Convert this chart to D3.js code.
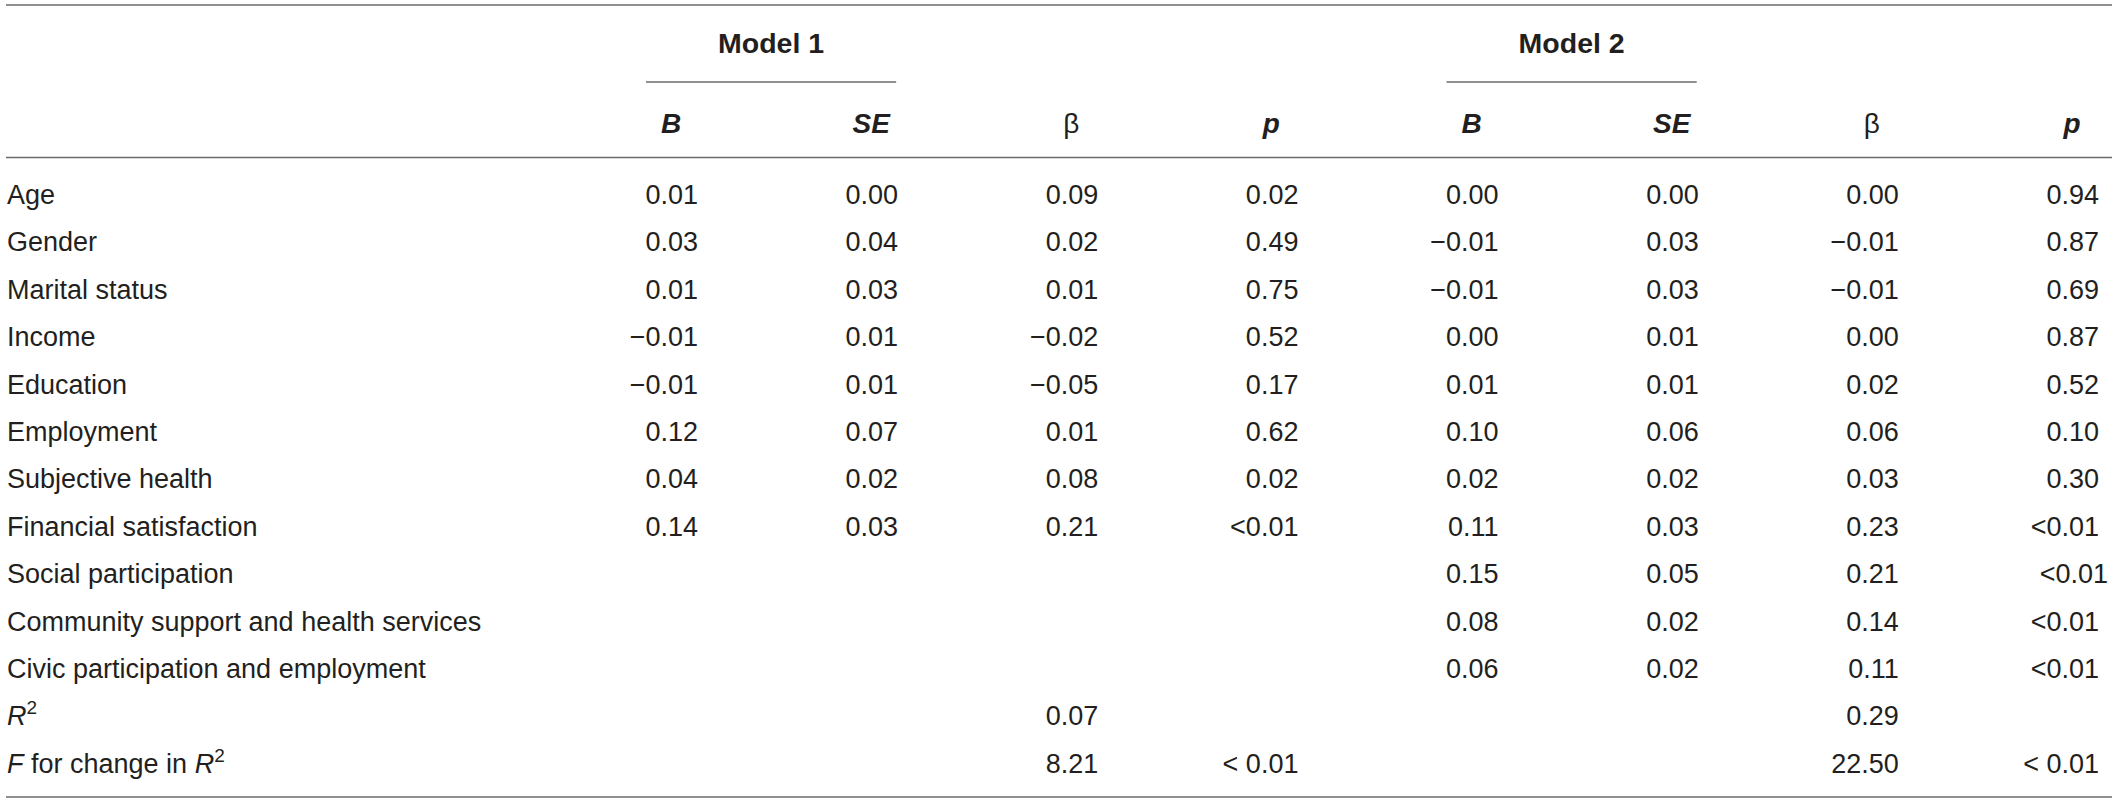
<!DOCTYPE html>
<html>
<head>
<meta charset="utf-8">
<script src="https://cdn.jsdelivr.net/npm/d3@7"></script>
<style>
  body { margin: 0; background: #fff; }
  text { font-family: "Liberation Sans", Arial, Helvetica, sans-serif; fill: #231f20; }
</style>
</head>
<body>
<div id="chart"></div>
<script>
// Data
const rowLabels = [
  "Age", "Gender", "Marital status", "Income", "Education", "Employment",
  "Subjective health", "Financial satisfaction", "Social participation",
  "Community support and health services", "Civic participation and employment",
  "R²", "F for change in R²"
];
const models = ["Model 1", "Model 2"];
const statHeaders = ["B", "SE", "β", "p"];

const model1B    = ["0.01", "0.03", "0.01", "−0.01", "−0.01", "0.12", "0.04", "0.14", "", "", "", "", ""];
const model1SE   = ["0.00", "0.04", "0.03", "0.01", "0.01", "0.07", "0.02", "0.03", "", "", "", "", ""];
const model1Beta = ["0.09", "0.02", "0.01", "−0.02", "−0.05", "0.01", "0.08", "0.21", "", "", "", "0.07", "8.21"];
const model1P    = ["0.02", "0.49", "0.75", "0.52", "0.17", "0.62", "0.02", "<0.01", "", "", "", "", "< 0.01"];
const model2B    = ["0.00", "−0.01", "−0.01", "0.00", "0.01", "0.10", "0.02", "0.11", "0.15", "0.08", "0.06", "", ""];
const model2SE   = ["0.00", "0.03", "0.03", "0.01", "0.01", "0.06", "0.02", "0.03", "0.05", "0.02", "0.02", "", ""];
const model2Beta = ["0.00", "−0.01", "−0.01", "0.00", "0.02", "0.06", "0.03", "0.23", "0.21", "0.14", "0.11", "0.29", "22.50"];
const model2P    = ["0.94", "0.87", "0.69", "0.87", "0.52", "0.10", "0.30", "<0.01", "<0.01", "<0.01", "<0.01", "", "< 0.01"];

const columns = [model1B, model1SE, model1Beta, model1P, model2B, model2SE, model2Beta, model2P];

// Dimensions
const width = 2118, height = 803;
const lineLeft = 6, lineRight = 2112;
const fontSize = 27;

const svg = d3.select("#chart").append("svg")
  .attr("width", width)
  .attr("height", height);

// Scales: column right edges and row baselines
const x = d3.scalePoint()
  .domain(d3.range(columns.length))
  .range([698, 2099]);
const y = d3.scaleLinear()
  .domain([0, rowLabels.length - 1])
  .range([204, 204 + 47.4 * (rowLabels.length - 1)]);

// Rules
const rules = [5, 157.5, 797];
svg.selectAll("line.rule")
  .data(rules)
  .join("line")
  .attr("class", "rule")
  .attr("x1", lineLeft).attr("x2", lineRight)
  .attr("y1", d => d).attr("y2", d => d)
  .attr("stroke", "#6b6b6b")
  .attr("stroke-width", 1.6);

// Model titles + underlines
const modelGroups = svg.selectAll("g.model")
  .data(models)
  .join("g")
  .attr("class", "model");

modelGroups.append("line")
  .attr("x1", (d, i) => x(i * 4) - 52)
  .attr("x2", (d, i) => x(i * 4 + 1) - 2)
  .attr("y1", 82).attr("y2", 82)
  .attr("stroke", "#6b6b6b")
  .attr("stroke-width", 1.6);

modelGroups.append("text")
  .attr("x", (d, i) => (x(i * 4) - 52 + x(i * 4 + 1) - 2) / 2)
  .attr("y", 53)
  .attr("text-anchor", "middle")
  .style("font-size", "28.5px")
  .style("font-weight", "bold")
  .text(d => d);

// Column headers
svg.selectAll("text.head")
  .data(d3.range(columns.length))
  .join("text")
  .attr("class", "head")
  .attr("x", i => x(i) - 27)
  .attr("y", 133)
  .attr("text-anchor", "middle")
  .style("font-size", "28px")
  .style("font-weight", i => statHeaders[i % 4] === "β" ? "normal" : "bold")
  .style("font-style", i => statHeaders[i % 4] === "β" ? "normal" : "italic")
  .text(i => statHeaders[i % 4]);

// Row labels
const labels = svg.selectAll("text.label")
  .data(rowLabels)
  .join("text")
  .attr("class", "label")
  .attr("x", 7)
  .attr("y", (d, i) => y(i))
  .style("font-size", fontSize + "px");

labels.each(function (d) {
  const t = d3.select(this);
  if (d.includes("R²")) {
    if (d.startsWith("F ")) {
      t.append("tspan").style("font-style", "italic").text("F");
      t.append("tspan").text(" for change in ");
    }
    t.append("tspan").style("font-style", "italic").text("R");
    t.append("tspan").attr("dy", -11).style("font-size", "19px").text("2");
  } else {
    t.text(d);
  }
});

// Cells
columns.forEach((col, ci) => {
  svg.append("g")
    .selectAll("text")
    .data(col)
    .join("text")
    .attr("x", (d, ri) => x(ci) + (ci === 7 && ri === 8 ? 9 : 0))
    .attr("y", (d, ri) => y(ri))
    .attr("text-anchor", "end")
    .style("font-size", fontSize + "px")
    .text(d => d);
});
</script>
</body>
</html>
